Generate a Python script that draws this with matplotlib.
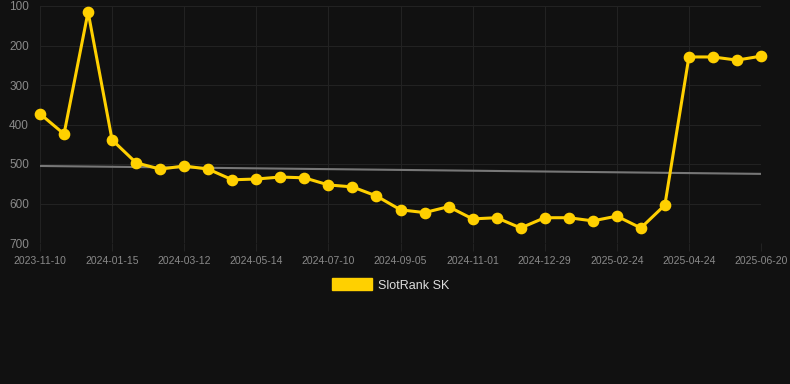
import matplotlib
matplotlib.use("Agg")
import matplotlib.pyplot as plt
import numpy as np
from matplotlib.patches import Patch

plt.rcParams["font.family"] = ["Liberation Sans", "DejaVu Sans"]

# one point every ~19 days, label every third point
tick_labels = ["2023-11-10", "2024-01-15", "2024-03-12", "2024-05-14", "2024-07-10",
               "2024-09-05", "2024-11-01", "2024-12-29", "2025-02-24", "2025-04-24",
               "2025-06-20"]
rank = [373, 424, 115, 439, 497, 513, 505, 513, 540, 538,
        533, 535, 553, 558, 581, 616, 623, 608, 639, 636,
        662, 636, 636, 644, 632, 662, 604, 229, 229, 237, 227]
trend = [505, 525]

bg = "#111111"
gold = "#FFD000"

fig = plt.figure(figsize=(7.9, 3.84), dpi=100, facecolor=bg)
ax = fig.add_axes([40 / 790, 1 - 243 / 384, (761 - 40) / 790, (243 - 6) / 384])
ax.set_facecolor(bg)

x = np.arange(len(rank))
ax.plot([x[0], x[-1]], trend, color="#777777", lw=1.5, zorder=2)
ax.plot(x, rank, color=gold, lw=2.2, marker="o", ms=7.4, zorder=3, clip_on=False)

ax.set_xlim(0, len(rank) - 1)
ax.set_ylim(700, 100)
ax.set_yticks([100, 200, 300, 400, 500, 600, 700])
ax.set_xticks(x[::3])
ax.set_xticklabels(tick_labels)

ax.grid(True, color="#222222", lw=0.8)
ax.set_axisbelow(True)
for s in ax.spines.values():
    s.set_visible(False)
ax.tick_params(axis="y", length=0, pad=8, labelsize=8.5, labelcolor="#8a8a8a")
ax.tick_params(axis="x", length=6, color="#222222", pad=3, labelsize=7.5, labelcolor="#8a8a8a")

handle = Patch(facecolor=gold, edgecolor=gold)
leg = fig.legend([handle], ["SlotRank SK"], loc="center", bbox_to_anchor=(391 / 790, 1 - 285 / 384),
                 frameon=False, fontsize=9, handlelength=3.2, handleheight=1.1, handletextpad=0.5)
for t in leg.get_texts():
    t.set_color("#dddddd")

fig.savefig("out.png", dpi=100, facecolor=bg)
